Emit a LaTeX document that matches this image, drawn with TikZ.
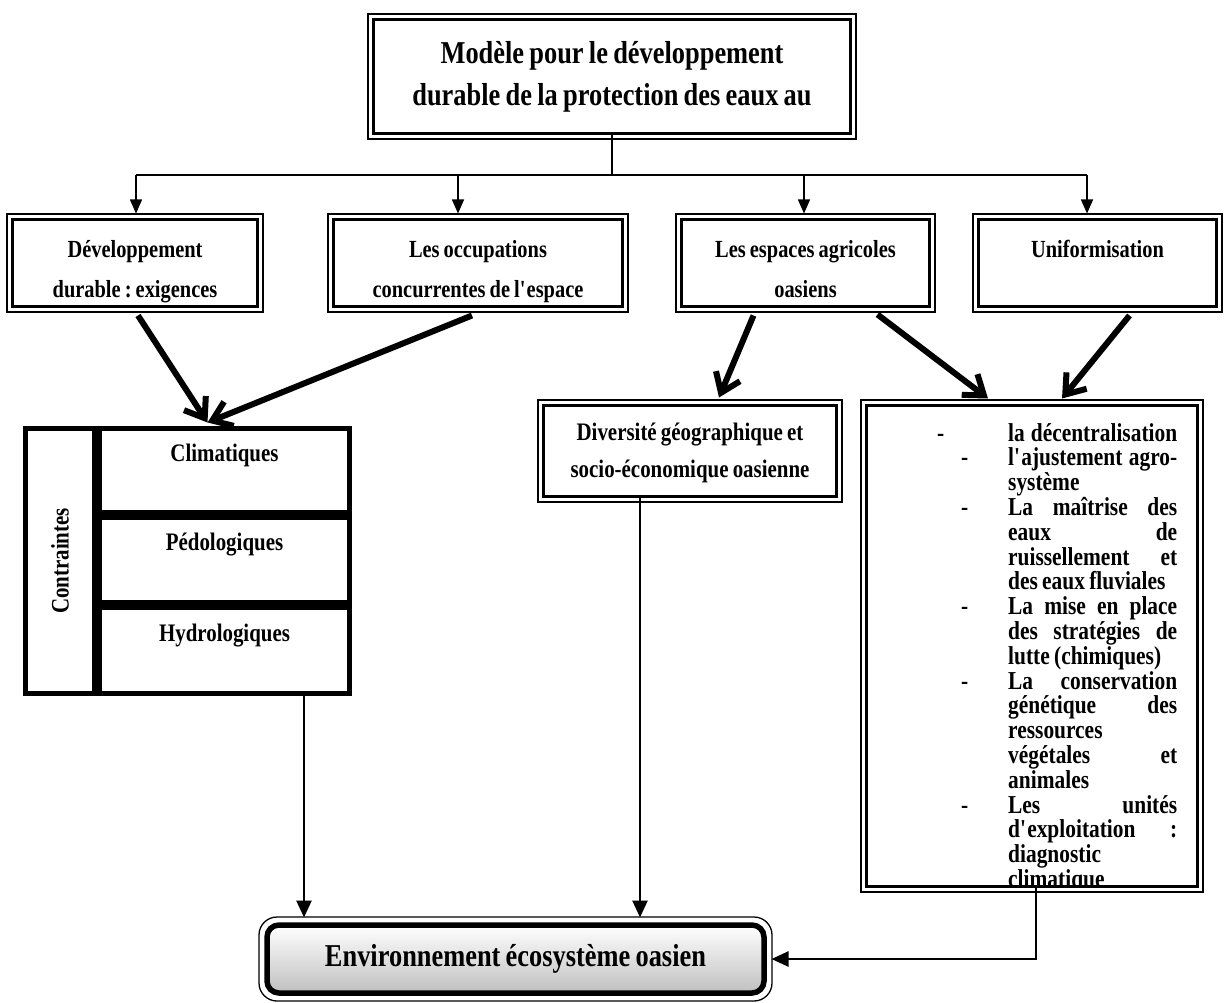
\documentclass[tikz,border=0pt]{standalone}
\usepackage{fontspec}
\setmainfont{Liberation Serif}[FakeStretch=0.83,WordSpace=0.8]
\usetikzlibrary{arrows.meta,positioning}
\tikzset{
  boite/.style={draw,line width=3pt,outer sep=0pt,inner sep=2pt,align=flush center},
  cadre/.style={boite,minimum height=87pt,font=\bfseries\fontsize{24.6}{40}\selectfont,
    text height=16pt,text depth=28pt},
  ligne/.style={draw,line width=5pt,outer sep=0pt,minimum width=250pt,
    font=\bfseries\fontsize{25.2}{28}\selectfont},
  decale/.style={text height=15pt,text depth=34pt},
  fleche/.style={-{Triangle[length=14pt,width=12pt]},line width=1.3pt},
  fleche2/.style={-{Triangle[length=17pt,width=15pt]},line width=2.6pt},
  grosse/.style={-{Straight Barb[length=18pt,width=26pt]},line width=6pt}
}
\newcommand\tiret[1]{\llap{\makebox[#1][l]{-}}}
\newcommand\pleine[1]{\makebox[169pt][s]{#1}}

\begin{document}
\frenchspacing
\begin{tikzpicture}[x=1pt,y=-1pt]
  \path[fill=white] (0,0) rectangle (1226,1003);
  \useasboundingbox (0,0) rectangle (1226,1003);
  % haut
  \node[boite,minimum width=477pt,minimum height=114pt,text width=465pt,
    font=\bfseries\fontsize{31.8}{42}\selectfont] (titre) at (612,76.5)
    {Modèle pour le développement\\durable de la protection des eaux au};
  \node[cadre,minimum width=245pt,text width=235pt] (dev) at (135,263)
    {Développement\\durable : exigences};
  \node[cadre,minimum width=289pt,text width=279pt] (occ) at (478,263)
    {Les occupations\\concurrentes de l\textquotesingle espace};
  \node[cadre,minimum width=248pt,text width=238pt] (esp) at (805.5,263)
    {Les espaces agricoles\\oasiens};
  \node[cadre,minimum width=238pt,text width=228pt] (unif) at (1097.5,263)
    {Uniformisation};
  % contraintes
  \node[ligne,minimum width=265pt,minimum height=69pt,rotate=90] (cont) at (60,561) {Contraintes};
  \node[ligne,decale,minimum height=84pt] (clim) at (224.5,470.5) {Climatiques};
  \node[ligne,decale,minimum height=85pt,below=5pt of clim] (pedo) {Pédologiques};
  \node[ligne,decale,minimum height=86pt,below=5pt of pedo] (hydro) {Hydrologiques};
  % milieu
  \node[cadre,minimum width=293pt,minimum height=91pt,text width=283pt,text depth=38pt,
    font=\bfseries\fontsize{25.2}{37}\selectfont] (div) at (690,451)
    {Diversité géographique et\\socio-économique oasienne};
  \node[boite,minimum width=331pt,minimum height=481pt] (act) at (1032,646) {};
  \begin{scope}
    \clip ([shift={(1.5pt,-1.5pt)}]act.north west) rectangle ([shift={(-1.5pt,1.5pt)}]act.south east);
    \node[anchor=base west,inner sep=0pt,font=\bfseries\fontsize{25.8}{24.8}\selectfont]
      (liste) at (1008,441) {\begin{minipage}[t]{169pt}
      \noindent\tiret{71pt}\pleine{la décentralisation}\\
      \tiret{47pt}\pleine{l\textquotesingle ajustement agro-}\\
      système\\
      \tiret{47pt}\pleine{La maîtrise des}\\
      \pleine{eaux de}\\
      \pleine{ruissellement et}\\
      des eaux fluviales\\
      \tiret{47pt}\pleine{La mise en place}\\
      \pleine{des stratégies de}\\
      lutte (chimiques)\\
      \tiret{47pt}\pleine{La conservation}\\
      \pleine{génétique des}\\
      ressources\\
      \pleine{végétales et}\\
      animales\\
      \tiret{47pt}\pleine{Les unités}\\
      \pleine{d\textquotesingle exploitation :}\\
      diagnostic\\
      climatique
      \end{minipage}};
  \end{scope}
  % bas
  \node[draw,line width=5.5pt,rounded corners=12pt,top color=white,bottom color=black!25,
    minimum width=497pt,minimum height=68pt,outer sep=0pt,
    font=\bfseries\fontsize{31.8}{34}\selectfont] (env) at (515.5,959)
    {Environnement écosystème oasien};
  \draw[line width=1.3pt,rounded corners=18pt]
    ([shift={(-8pt,8pt)}]env.north west) rectangle ([shift={(8pt,-8pt)}]env.south east);
  % doubles cadres
  \foreach \n in {titre,dev,occ,esp,unif,div,act}
    \draw[line width=1.2pt] ([shift={(-5.5pt,5.5pt)}]\n.north west)
      rectangle ([shift={(5.5pt,-5.5pt)}]\n.south east);
  % branches
  \coordinate (bus) at (612,175);
  \foreach \n/\X in {dev/136,occ/458,esp/804,unif/1087}
    \coordinate (b-\n) at (\X,175);
  \draw[line width=1.3pt] (titre.south) -- (bus);
  \draw[line width=1.3pt] (b-dev) -- (b-unif);
  \foreach \n in {dev,occ,esp,unif}
    \draw[fleche,shorten >=6pt] (b-\n) -- (b-\n |- \n.north);
  % grosses fleches
  \draw[grosse] ([xshift=3pt,yshift=-9pt]dev.south) -- ([xshift=-17pt,yshift=6pt]clim.north);
  \draw[grosse] ([xshift=-6pt,yshift=-9pt]occ.south) -- ([xshift=-17pt,yshift=6pt]clim.north);
  \draw[grosse] ([xshift=-52pt,yshift=-9pt]esp.south) -- ([xshift=29pt,yshift=8pt]div.north);
  \draw[grosse] ([xshift=72pt,yshift=-8pt]esp.south) -- ([xshift=-44pt,yshift=7pt]act.north);
  \draw[grosse] ([xshift=32pt,yshift=-9pt]unif.south) -- ([xshift=30pt,yshift=7pt]act.north);
  % vers le bas
  \coordinate (c-hydro) at ([xshift=79.5pt]hydro.south);
  \coordinate (c-div) at ([xshift=-50pt]div.south);
  \coordinate (c-act) at ([xshift=4pt]act.south);
  \draw[fleche2,shorten >=7.5pt] (c-hydro) -- (c-hydro |- env.north);
  \draw[fleche2,shorten >=7.5pt] (c-div) -- (c-div |- env.north);
  \draw[fleche2,shorten >=7.5pt] (c-act) |- (env.east);
\end{tikzpicture}
\end{document}
